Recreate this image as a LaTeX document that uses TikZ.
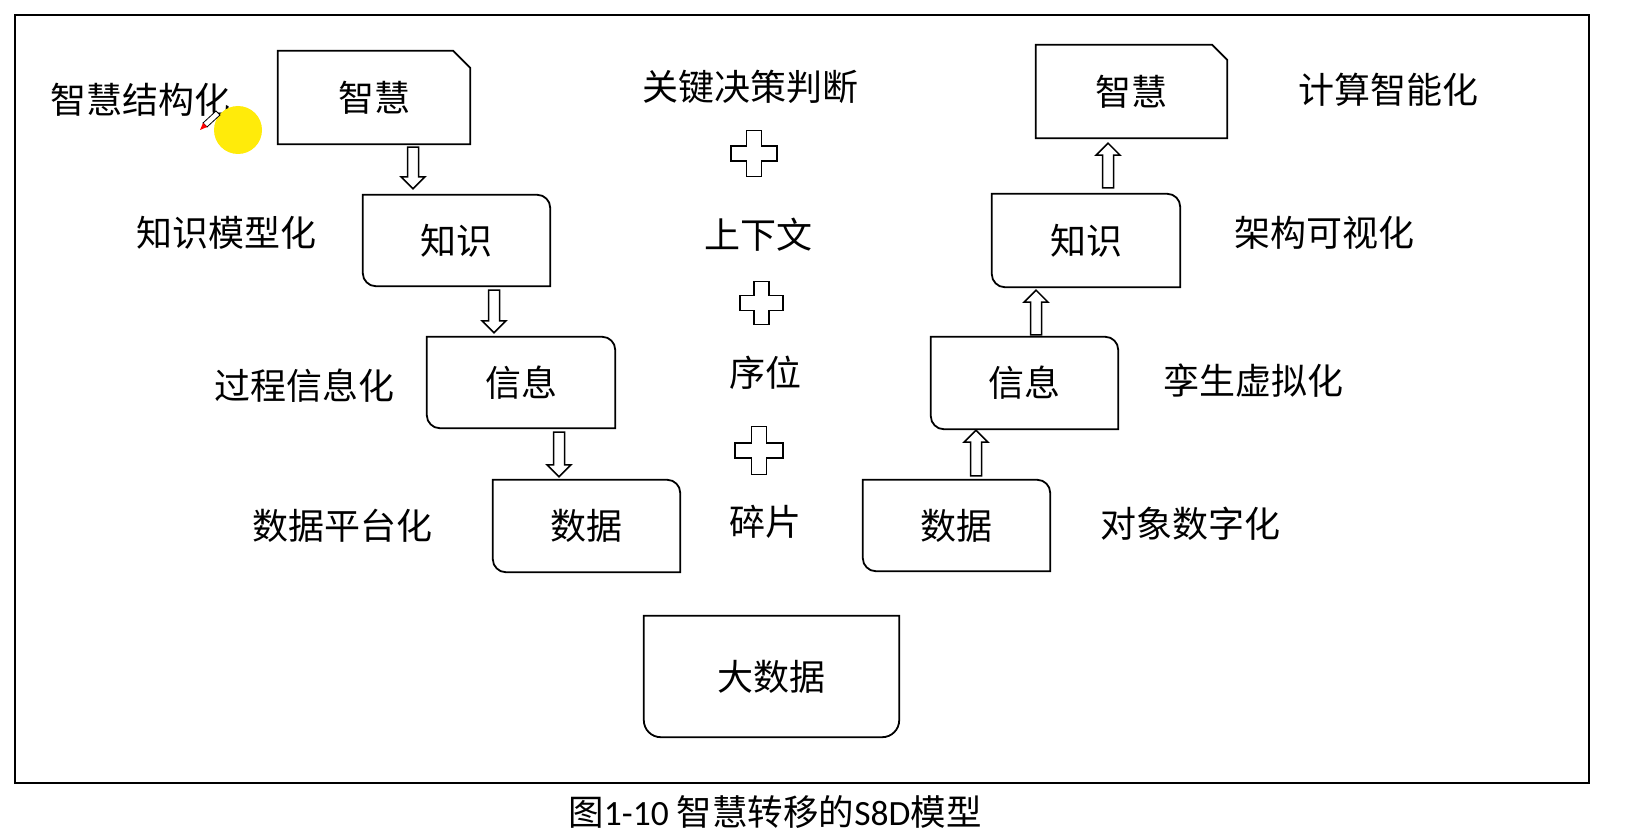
\documentclass[tikz,border=0pt]{standalone}
\usepackage{fontspec}
\usetikzlibrary{calc}
\newfontfamily\cjk{Noto Sans CJK SC}
\newfontfamily\latinfont{Carlito}
\definecolor{hl}{RGB}{255,235,10}
\tikzset{
  boxline/.style={draw=black, line width=1.8pt, line join=miter},
  arrowline/.style={draw=black, line width=1.5pt, fill=white, line join=miter},
  boxnode/.style={inner sep=0pt, draw=none, font=\cjk\fontsize{36pt}{40pt}\selectfont},
  lbl/.style={inner sep=0pt, font=\cjk\fontsize{36pt}{40pt}\selectfont},
}
% box with clipped top-right corner
\newcommand\clipbox[2]{\draw[boxline] (#1.north west) -- ([xshift=-#2pt]#1.north east) -- ([yshift=-#2pt]#1.north east) -- (#1.south east) -- (#1.south west) -- cycle;}
% box with rounded top-right and bottom-left corners
\newcommand\rtbox[1]{\draw[boxline] (#1.north west) -- ([xshift=-13pt]#1.north east) arc[start angle=90,end angle=0,radius=13pt] -- (#1.south east) -- ([xshift=13pt]#1.south west) arc[start angle=270,end angle=180,radius=13pt] -- cycle;}
% box with rounded bottom corners
\newcommand\bottombox[1]{\draw[boxline] (#1.north west) -- (#1.north east) -- ([yshift=17pt]#1.south east) arc[start angle=0,end angle=-90,radius=17pt] -- ([xshift=17pt]#1.south west) arc[start angle=270,end angle=180,radius=17pt] -- cycle;}
% hollow block arrows
\newcommand\downarrowb[2]{\draw[arrowline] let \p1=(#1), \p2=(#2) in (\x1-5.5pt,\y1) -- (\x1-5.5pt,\y2+12pt) -- (\x1-12pt,\y2+12pt) -- (\x1,\y2) -- (\x1+12pt,\y2+12pt) -- (\x1+5.5pt,\y2+12pt) -- (\x1+5.5pt,\y1) -- cycle;}
\newcommand\uparrowb[2]{\draw[arrowline] let \p1=(#1), \p2=(#2) in (\x1-5.5pt,\y1) -- (\x1-5.5pt,\y2-12pt) -- (\x1-12pt,\y2-12pt) -- (\x1,\y2) -- (\x1+12pt,\y2-12pt) -- (\x1+5.5pt,\y2-12pt) -- (\x1+5.5pt,\y1) -- cycle;}
% plus outline
\newcommand\plusshape[2]{\draw[boxline, shift={(#1)}] (-7.5,#2) -- (7.5,#2) -- (7.5,7.5) -- (#2,7.5) -- (#2,-7.5) -- (7.5,-7.5) -- (7.5,-#2) -- (-7.5,-#2) -- (-7.5,-7.5) -- (-#2,-7.5) -- (-#2,7.5) -- (-7.5,7.5) -- cycle;}
\begin{document}
\begin{tikzpicture}[x=1pt,y=1pt]
\useasboundingbox (0,0) rectangle (1644,-840);
\fill[white] (0,0) rectangle (1644,-840);
% frame
\draw[line width=2.2pt] (15,-15) rectangle (1589,-783);

% left column boxes
\node[boxnode, minimum width=192pt, minimum height=93pt] (w1) at (374,-97.5) {智慧};
\node[boxnode, minimum width=187pt, minimum height=91pt] (k1) at (456.5,-240.5) {知识};
\node[boxnode, minimum width=188pt, minimum height=91pt] (i1) at (521,-382.5) {信息};
\node[boxnode, minimum width=187pt, minimum height=92pt] (d1) at (586.5,-526) {数据};
\clipbox{w1}{17}
\rtbox{k1}
\rtbox{i1}
\rtbox{d1}

% right column boxes
\node[boxnode, minimum width=191pt, minimum height=93pt] (w2) at (1131.5,-91.5) {智慧};
\node[boxnode, minimum width=188pt, minimum height=93pt] (k2) at (1086,-240.5) {知识};
\node[boxnode, minimum width=187pt, minimum height=92pt] (i2) at (1024.5,-383) {信息};
\node[boxnode, minimum width=187pt, minimum height=91pt] (d2) at (956.5,-525.5) {数据};
\clipbox{w2}{15}
\rtbox{k2}
\rtbox{i2}
\rtbox{d2}

% big data box
\node[boxnode, minimum width=255pt, minimum height=121pt] (bd) at (771.5,-676.5) {大数据};
\bottombox{bd}

% arrow x positions
\coordinate (ax1) at (413,0);
\coordinate (ax2) at (494,0);
\coordinate (ax3) at (559,0);
\coordinate (bx1) at (1108,0);
\coordinate (bx2) at (1036,0);
\coordinate (bx3) at (976,0);
\downarrowb{$(w1.south -| ax1)+(0,-3)$}{$(k1.north -| ax1)+(0,6)$}
\downarrowb{$(k1.south -| ax2)+(0,-4)$}{$(i1.north -| ax2)+(0,4)$}
\downarrowb{$(i1.south -| ax3)+(0,-4)$}{$(d1.north -| ax3)+(0,3)$}
\uparrowb{$(k2.north -| bx1)+(0,6)$}{$(w2.south -| bx1)+(0,-5)$}
\uparrowb{$(i2.north -| bx2)+(0,2)$}{$(k2.south -| bx2)+(0,-3)$}
\uparrowb{$(d2.north -| bx3)+(0,4)$}{$(i2.south -| bx3)+(0,-1)$}

% left labels
\node[lbl] (l1) at (140,-100) {智慧结构化};
\node[lbl] (l2) at (226,-233) {知识模型化};
\node[lbl] (l3) at (304,-386) {过程信息化};
\node[lbl] (l4) at (342,-526) {数据平台化};

% right labels
\node[lbl] (r1) at (1388,-90) {计算智能化};
\node[lbl] (r2) at (1324,-233) {架构可视化};
\node[lbl] (r3) at (1253,-381) {孪生虚拟化};
\node[lbl] (r4) at (1190,-524) {对象数字化};

% center column
\node[lbl] (c1) at (750,-87) {关键决策判断};
\node[lbl] (c2) at (758,-235) {上下文};
\node[lbl] (c3) at (765,-373) {序位};
\node[lbl] (c4) at (765,-522) {碎片};
\coordinate (p1) at (754,-153.5);
\coordinate (p2) at (761.5,-303);
\coordinate (p3) at (759,-450.5);
\plusshape{p1}{23}
\plusshape{p2}{21.5}
\plusshape{p3}{24}

% pointer highlight and pen cursor
\fill[hl] (238,-130) circle[radius=24];
\draw[line width=0.8pt, fill=white] (216,-111) -- (220,-115) -- (207,-127) -- (203,-123) -- cycle;
\fill[red] (203,-123) -- (207,-127) -- (200,-130) -- cycle;

% caption
\node[inner sep=0pt, font=\fontsize{35.5pt}{38pt}\selectfont] (cap) at (775,-812) {{\cjk 图}{\latinfont 1-10 }{\cjk 智慧转移的}{\latinfont S8D}{\cjk 模型}};
\end{tikzpicture}
\end{document}
